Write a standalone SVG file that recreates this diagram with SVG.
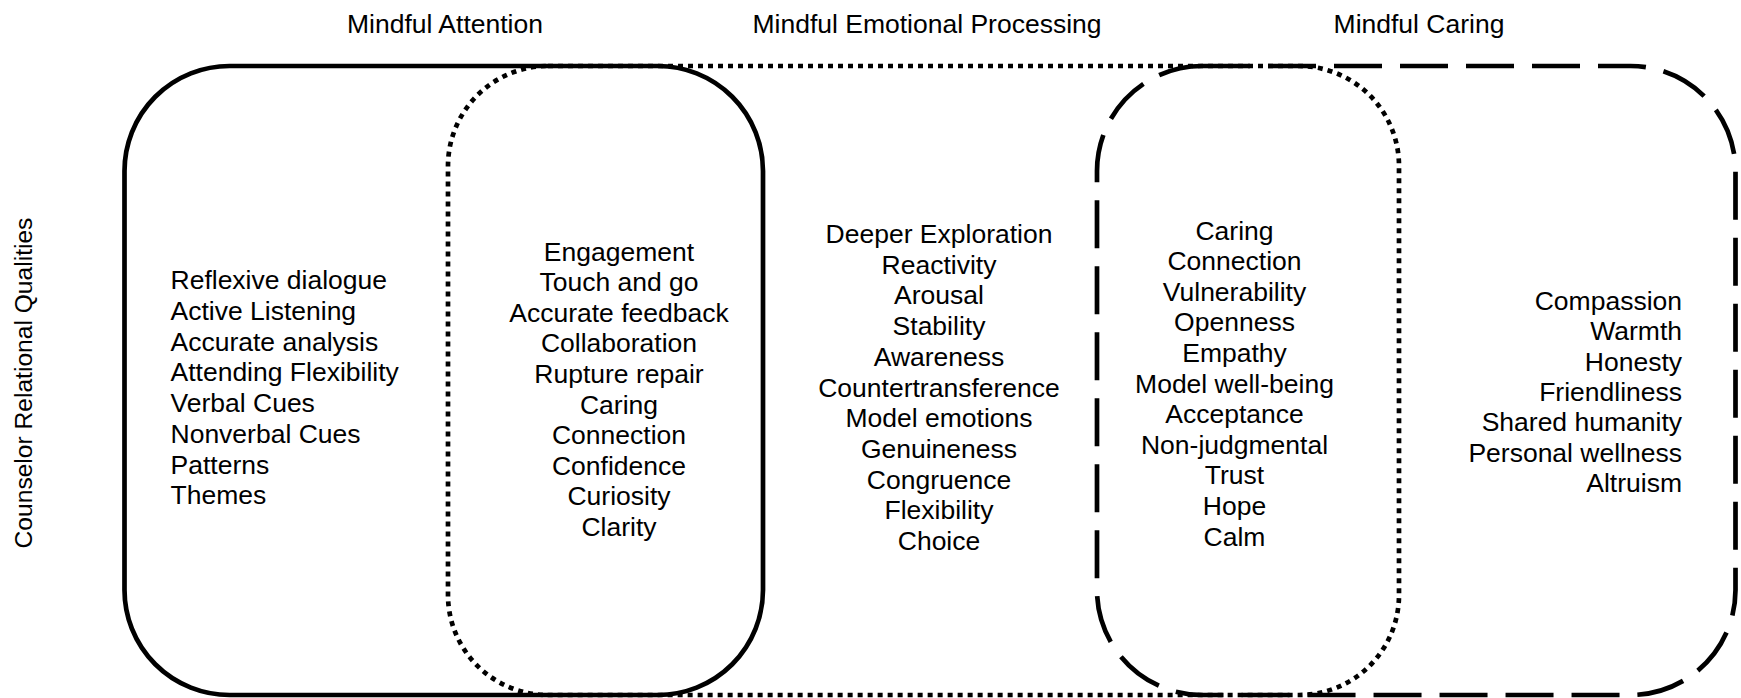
<svg xmlns="http://www.w3.org/2000/svg" width="1741" height="698" viewBox="0 0 1741 698">
  <style>
    text { font-family: "Liberation Sans", Arial, sans-serif; font-size: 26.5px; fill: #000; }
    .title { text-anchor: middle; }
    .side { text-anchor: middle; font-size: 24.6px; }
    .mid { text-anchor: middle; }
    .right { text-anchor: end; }
    .frame { fill: none; stroke: #000; stroke-width: 4.7; }
    .solid { }
    .dotted { stroke-dasharray: 5 5; }
    .dashed { stroke-dasharray: 48 18; }
  </style>

  <rect width="1741" height="698" fill="#fff"/>

  <!-- column headings -->
  <g id="headings">
    <text class="title" x="445" y="33">Mindful Attention</text>
    <text class="title" x="927" y="33">Mindful Emotional Processing</text>
    <text class="title" x="1419" y="33">Mindful Caring</text>
  </g>

  <!-- side label -->
  <g id="side-label">
    <text class="side" transform="translate(32 383) rotate(-90)">Counselor Relational Qualities</text>
  </g>

  <!-- overlapping region outlines -->
  <g id="regions">
    <rect id="attention-frame" class="frame solid" x="124.5" y="66" width="638.5" height="629" rx="105" ry="105"/>
    <rect id="emotional-frame" class="frame dotted" x="448" y="66" width="951" height="629" rx="100" ry="100"/>
    <rect id="caring-frame" class="frame dashed" x="1097" y="66" width="638.5" height="629" rx="105" ry="105"/>
  </g>

  <!-- attention only -->
  <g id="attention-only">
    <text x="170.5" y="289.3">Reflexive dialogue</text>
    <text x="170.5" y="320">Active Listening</text>
    <text x="170.5" y="350.7">Accurate analysis</text>
    <text x="170.5" y="381.4">Attending Flexibility</text>
    <text x="170.5" y="412.1">Verbal Cues</text>
    <text x="170.5" y="442.8">Nonverbal Cues</text>
    <text x="170.5" y="473.5">Patterns</text>
    <text x="170.5" y="504.2">Themes</text>
  </g>

  <!-- attention and emotional processing -->
  <g id="attention-emotional">
    <text class="mid" x="619" y="260.5">Engagement</text>
    <text class="mid" x="619" y="291.1">Touch and go</text>
    <text class="mid" x="619" y="321.7">Accurate feedback</text>
    <text class="mid" x="619" y="352.3">Collaboration</text>
    <text class="mid" x="619" y="382.9">Rupture repair</text>
    <text class="mid" x="619" y="413.5">Caring</text>
    <text class="mid" x="619" y="444.1">Connection</text>
    <text class="mid" x="619" y="474.7">Confidence</text>
    <text class="mid" x="619" y="505.3">Curiosity</text>
    <text class="mid" x="619" y="535.9">Clarity</text>
  </g>

  <!-- emotional processing only -->
  <g id="emotional-only">
    <text class="mid" x="939" y="243">Deeper Exploration</text>
    <text class="mid" x="939" y="273.7">Reactivity</text>
    <text class="mid" x="939" y="304.4">Arousal</text>
    <text class="mid" x="939" y="335.1">Stability</text>
    <text class="mid" x="939" y="365.8">Awareness</text>
    <text class="mid" x="939" y="396.5">Countertransference</text>
    <text class="mid" x="939" y="427.2">Model emotions</text>
    <text class="mid" x="939" y="457.9">Genuineness</text>
    <text class="mid" x="939" y="488.6">Congruence</text>
    <text class="mid" x="939" y="519.3">Flexibility</text>
    <text class="mid" x="939" y="550">Choice</text>
  </g>

  <!-- emotional processing and caring -->
  <g id="emotional-caring">
    <text class="mid" x="1234.5" y="239.5">Caring</text>
    <text class="mid" x="1234.5" y="270.1">Connection</text>
    <text class="mid" x="1234.5" y="300.7">Vulnerability</text>
    <text class="mid" x="1234.5" y="331.3">Openness</text>
    <text class="mid" x="1234.5" y="361.9">Empathy</text>
    <text class="mid" x="1234.5" y="392.5">Model well-being</text>
    <text class="mid" x="1234.5" y="423.1">Acceptance</text>
    <text class="mid" x="1234.5" y="453.7">Non-judgmental</text>
    <text class="mid" x="1234.5" y="484.3">Trust</text>
    <text class="mid" x="1234.5" y="514.9">Hope</text>
    <text class="mid" x="1234.5" y="545.5">Calm</text>
  </g>

  <!-- caring only -->
  <g id="caring-only">
    <text class="right" x="1682" y="309.8">Compassion</text>
    <text class="right" x="1682" y="340.2">Warmth</text>
    <text class="right" x="1682" y="370.6">Honesty</text>
    <text class="right" x="1682" y="401">Friendliness</text>
    <text class="right" x="1682" y="431.4">Shared humanity</text>
    <text class="right" x="1682" y="461.8">Personal wellness</text>
    <text class="right" x="1682" y="492.2">Altruism</text>
  </g>
</svg>
